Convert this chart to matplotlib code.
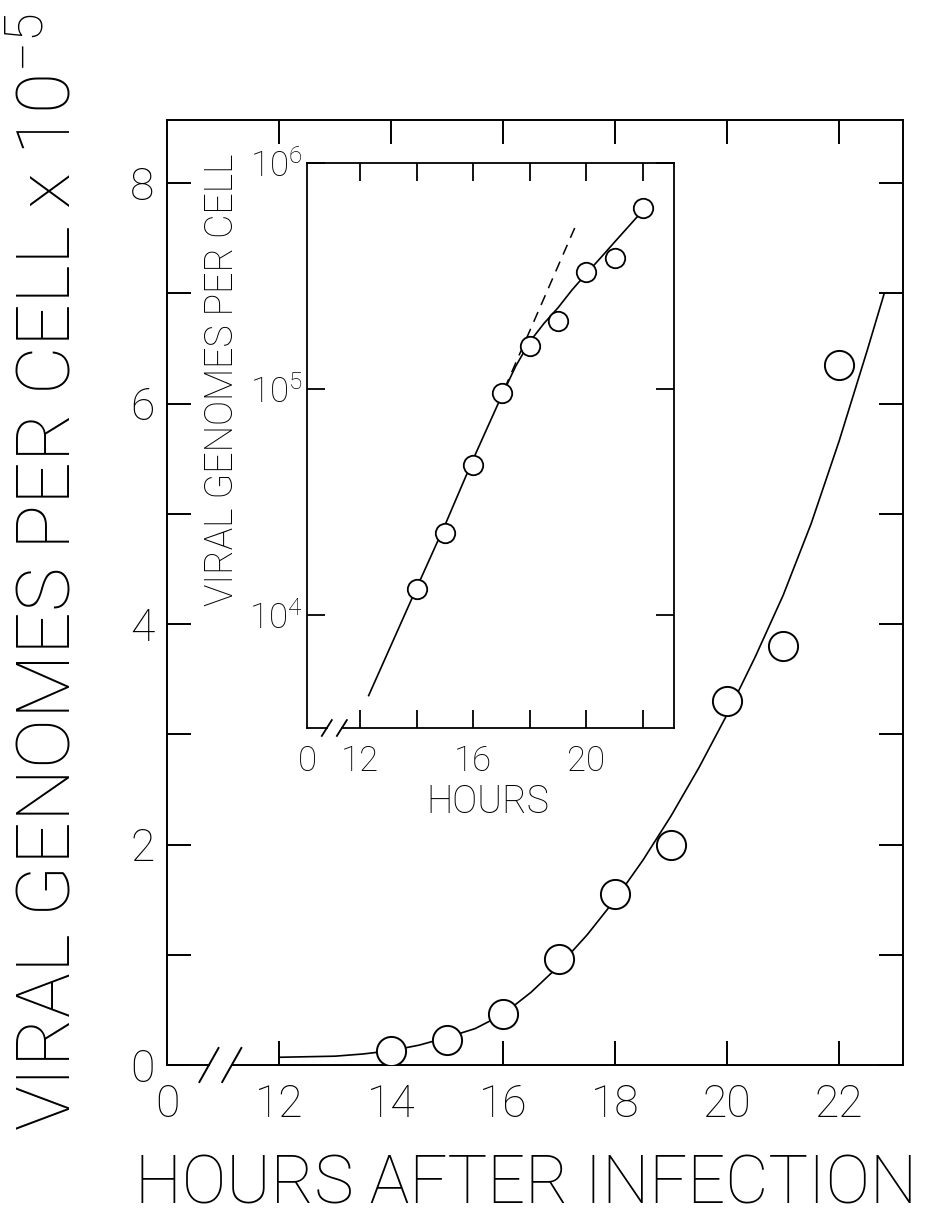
import matplotlib
matplotlib.use("Agg")
import matplotlib.pyplot as plt
import numpy as np

plt.rcParams['font.family'] = ['Roboto', 'DejaVu Sans']
plt.rcParams['font.weight'] = 'light'
plt.rcParams['mathtext.fontset'] = 'custom'
plt.rcParams['mathtext.rm'] = 'Roboto:light'
plt.rcParams['mathtext.it'] = 'Roboto:light'
plt.rcParams['mathtext.default'] = 'regular'

# measured points (hours after infection, viral genomes per cell)
hours = [14, 15, 16, 17, 18, 19, 20, 21, 22]
genomes = [1.3e4, 2.3e4, 4.6e4, 9.6e4, 1.55e5, 2.0e5, 3.3e5, 3.8e5, 6.35e5]

# fitted curve, linear plot (units of 1e5)
fit_hours = [12.0, 12.5, 13.0, 13.5, 14.0, 14.5, 15.0, 15.5, 16.0, 16.5, 17.0, 17.5,
             18.0, 18.5, 19.0, 19.5, 20.0, 20.5, 21.0, 21.5, 22.0, 22.5, 22.8]
fit_lin = [0.07, 0.075, 0.08, 0.10, 0.13, 0.18, 0.25, 0.33, 0.46, 0.66, 0.90, 1.18,
           1.50, 1.86, 2.26, 2.70, 3.18, 3.70, 4.26, 4.91, 5.66, 6.48, 6.99]

# fitted curve, semilog inset
fit_log_hours = [12.3, 14, 15, 16, 17, 17.5, 18, 18.5, 19, 19.5, 20, 20.5, 21, 21.5, 22]
fit_log = [4.4e3, 1.32e4, 2.5e4, 4.9e4, 9.3e4, 1.26e5, 1.62e5, 1.95e5, 2.29e5,
           2.75e5, 3.24e5, 3.8e5, 4.47e5, 5.25e5, 6.17e5]

# extrapolated exponential phase (dashed)
dash_hours = [17.1, 19.6]
dash_vals = [1.0e5, 5.2e5]

W, H = 932, 1220
fig = plt.figure(figsize=(W / 100, H / 100), dpi=100)

# ---- main linear axes ----
L, R, T, B = 167, 903, 120, 1065
ax = fig.add_axes([L / W, 1 - B / H, (R - L) / W, (B - T) / H])
ax.plot(fit_hours, fit_lin, color='k', lw=1.2, zorder=2)
ax.plot(hours, np.array(genomes) / 1e5, 'o', ms=21, mfc='white', mec='k', mew=1.4, zorder=3)
ax.set_xlim(10, 23.14)
ax.set_ylim(0, (B - T) / 110.25)

ax.set_xticks([10, 12, 14, 16, 18, 20, 22])
ax.set_xticklabels(['0', '12', '14', '16', '18', '20', '22'])
ax.set_yticks([0, 2, 4, 6, 8])
ax.set_yticks([1, 3, 5, 7], minor=True)
ax.tick_params(which='both', direction='in', length=17, width=1.4, top=True, right=True,
               labelsize=32)
ax.tick_params(axis='x', pad=13)
ax.tick_params(axis='y', pad=9)
t0 = ax.xaxis.get_major_ticks()[0]
t0.tick1line.set_visible(False)
t0.tick2line.set_visible(False)
for s in ax.spines.values():
    s.set_linewidth(1.4)

# broken x axis
ax.spines['bottom'].set_visible(False)
kw = dict(transform=ax.transAxes, clip_on=False, color='k', lw=1.4)
ax.plot([0, 0.057], [0, 0], **kw)
ax.plot([0.088, 1], [0, 0], **kw)
for f in (0.057, 0.088):
    ax.plot([f - 0.013, f + 0.013], [-0.018, 0.018], **kw)

fig.text(50 / W, 1 - 572 / H, 'VIRAL GENOMES PER CELL x 10$^{-5}$', rotation=90,
         ha='center', va='center', fontsize=54)
fig.text(526 / W, 1 - 1185 / H, 'HOURS AFTER INFECTION', ha='center', va='center', fontsize=48)

# ---- inset semilog axes ----
iL, iR, iT, iB = 307, 674, 163, 728
ax2 = fig.add_axes([iL / W, 1 - iB / H, (iR - iL) / W, (iB - iT) / H])
ax2.set_yscale('log')
ax2.plot(fit_log_hours, fit_log, color='k', lw=1.2, zorder=2)
ax2.plot(dash_hours, dash_vals, color='k', lw=1.1, ls=(0, (7, 5)), zorder=2)
ax2.plot(hours, genomes, 'o', ms=14, mfc='white', mec='k', mew=1.3, zorder=3)
ax2.set_xlim(10.12, 23.1)
ax2.set_ylim(10 ** 3.5, 1e6)

ax2.set_xticks([10.12, 12, 14, 16, 18, 20, 22])
ax2.set_xticklabels(['0', '12', '', '16', '', '20', ''])
ax2.set_yticks([1e4, 1e5, 1e6])
ax2.set_yticklabels(['10$^{4}$', '10$^{5}$', '10$^{6}$'])
ax2.yaxis.set_minor_locator(matplotlib.ticker.NullLocator())
ax2.tick_params(which='both', direction='in', length=13, width=1.3, top=True, right=True,
                labelsize=25)
ax2.tick_params(axis='x', pad=12)
ax2.tick_params(axis='y', pad=3)
t0 = ax2.xaxis.get_major_ticks()[0]
t0.tick1line.set_visible(False)
t0.tick2line.set_visible(False)
for s in ax2.spines.values():
    s.set_linewidth(1.3)

ax2.spines['bottom'].set_visible(False)
kw2 = dict(transform=ax2.transAxes, clip_on=False, color='k', lw=1.3)
ax2.plot([0, 0.054], [0, 0], **kw2)
ax2.plot([0.095, 1], [0, 0], **kw2)
for f in (0.054, 0.095):
    ax2.plot([f - 0.0136, f + 0.0136], [-0.014, 0.014], **kw2)

fig.text(222 / W, 1 - 380 / H, 'VIRAL GENOMES PER CELL', rotation=90,
         ha='center', va='center', fontsize=27)
fig.text(488 / W, 1 - 802 / H, 'HOURS', ha='center', va='center', fontsize=27)

fig.savefig('out.png', dpi=100)
